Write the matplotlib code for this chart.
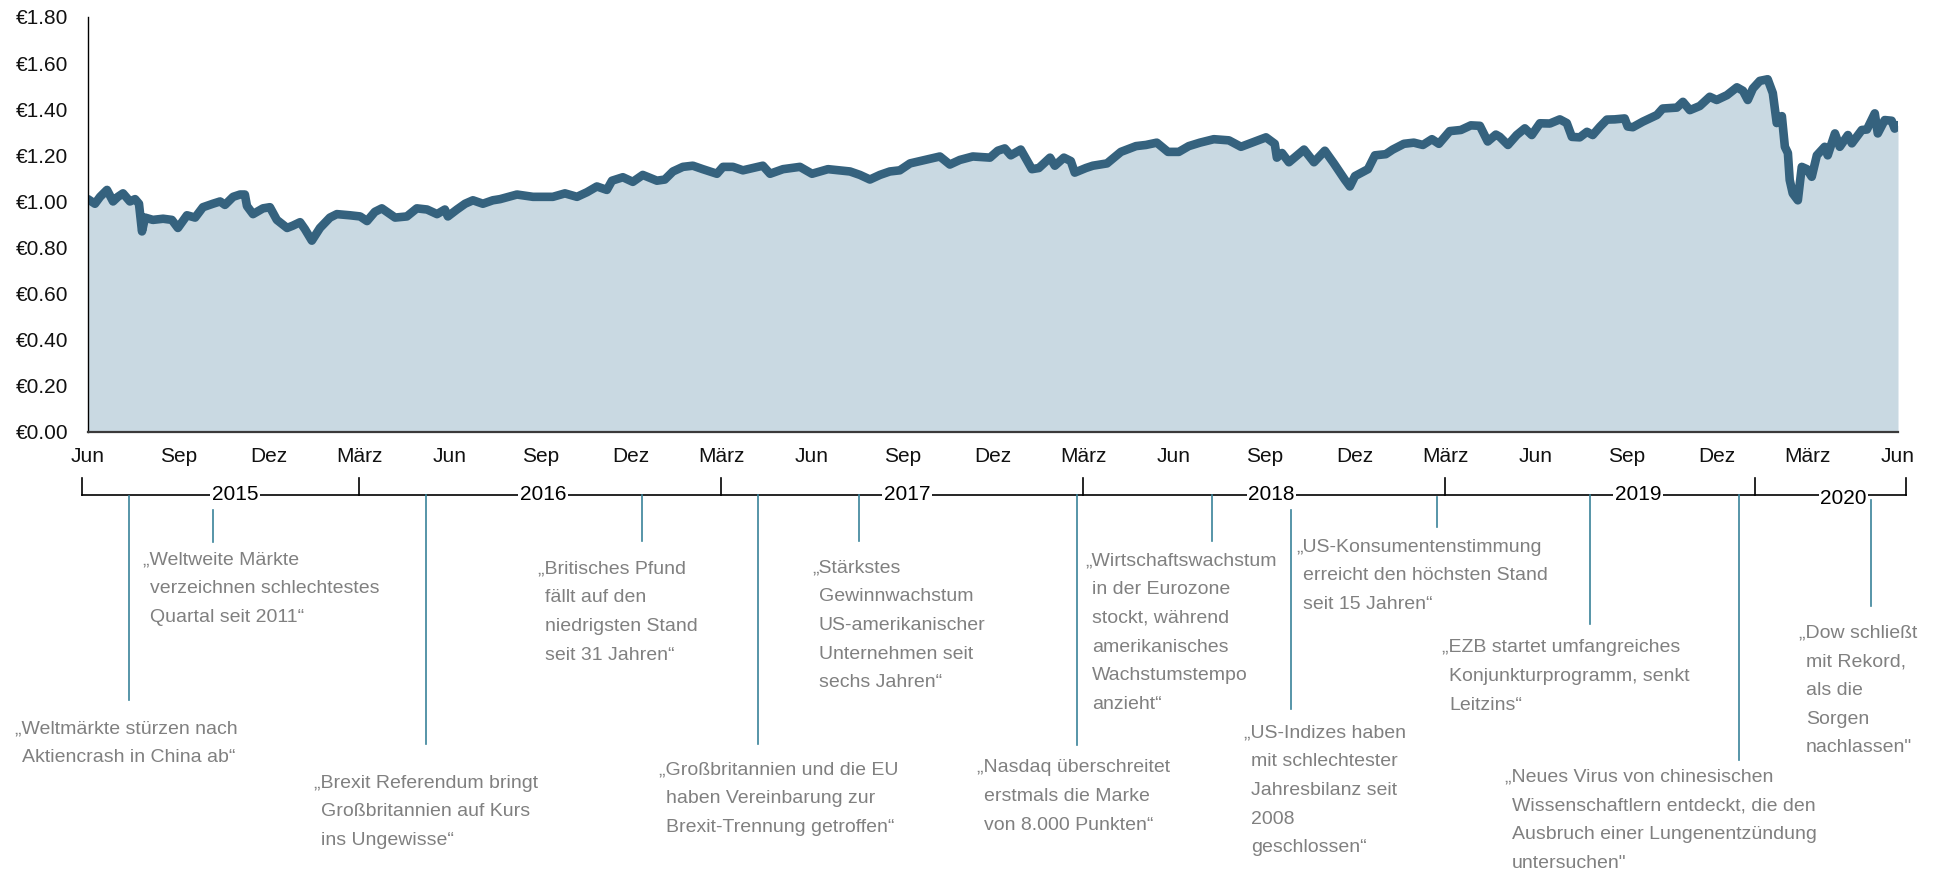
import matplotlib
matplotlib.use('Agg')
import matplotlib.pyplot as plt
import matplotlib.transforms as mtransforms

plt.rcParams['font.family'] = ['Liberation Sans', 'DejaVu Sans']

# Wertentwicklung: Monate seit Juni 2015 und Wert in Euro
months = [0.00, 0.23, 0.40, 0.63, 0.83, 0.99, 1.16, 1.39, 1.56, 1.69, 1.79, 1.89, 2.15, 2.49, 2.78,
          2.98, 3.28, 3.55, 3.81, 4.14, 4.38, 4.54, 4.81, 5.04, 5.20, 5.27, 5.47, 5.80, 6.03, 6.26,
          6.60, 6.79, 7.03, 7.19, 7.42, 7.69, 8.02, 8.25, 8.68, 9.02, 9.25, 9.51, 9.74, 10.18, 10.57,
          10.90, 11.24, 11.57, 11.83, 11.93, 12.23, 12.50, 12.76, 13.09, 13.42, 13.66, 14.22, 14.75,
          15.41, 15.81, 16.21, 16.54, 16.87, 17.20, 17.37, 17.73, 18.06, 18.39, 18.86, 19.12, 19.39,
          19.72, 20.05, 20.38, 20.85, 21.05, 21.38, 21.71, 22.37, 22.61, 23.04, 23.60, 24.00, 24.53,
          25.26, 25.59, 25.92, 26.25, 26.58, 26.91, 27.25, 27.91, 28.24, 28.57, 28.90, 29.33, 29.90,
          30.16, 30.39, 30.59, 30.92, 31.29, 31.52, 31.89, 32.05, 32.35, 32.58, 32.71, 33.08, 33.31,
          33.78, 34.24, 34.74, 35.07, 35.43, 35.80, 36.16, 36.49, 36.86, 37.32, 37.82, 38.22, 38.65,
          39.05, 39.34, 39.41, 39.58, 39.81, 40.31, 40.64, 41.00, 41.30, 41.66, 41.83, 42.00, 42.43,
          42.66, 43.02, 43.25, 43.62, 43.95, 44.25, 44.55, 44.78, 45.14, 45.51, 45.84, 46.14, 46.40,
          46.67, 46.80, 47.07, 47.36, 47.63, 47.86, 48.13, 48.46, 48.79, 49.02, 49.19, 49.45, 49.69,
          49.88, 50.12, 50.35, 50.61, 50.94, 51.04, 51.21, 51.54, 52.01, 52.20, 52.67, 52.87, 53.10,
          53.43, 53.76, 53.99, 54.33, 54.66, 54.86, 55.02, 55.19, 55.42, 55.68, 55.85, 55.98, 56.15,
          56.25, 56.35, 56.41, 56.51, 56.68, 56.81, 56.98, 57.14, 57.31, 57.57, 57.67, 57.91, 58.07,
          58.34, 58.47, 58.80, 58.97, 59.23, 59.33, 59.56, 59.79, 59.89, 60.00]
values = [1.01, 0.99, 1.02, 1.05, 1.00, 1.02, 1.035, 1.00, 1.01, 0.99, 0.87, 0.93, 0.92, 0.925, 0.92,
          0.885, 0.94, 0.93, 0.975, 0.99, 1.00, 0.985, 1.02, 1.03, 1.03, 0.98, 0.945, 0.97, 0.975, 0.92,
          0.885, 0.895, 0.91, 0.88, 0.83, 0.885, 0.93, 0.945, 0.94, 0.935, 0.915, 0.955, 0.97, 0.93, 0.935,
          0.97, 0.965, 0.945, 0.965, 0.935, 0.965, 0.99, 1.005, 0.99, 1.005, 1.01, 1.03, 1.02,
          1.02, 1.035, 1.02, 1.04, 1.065, 1.05, 1.09, 1.105, 1.085, 1.115, 1.09, 1.095, 1.13,
          1.15, 1.155, 1.14, 1.12, 1.15, 1.15, 1.135, 1.155, 1.12, 1.14, 1.15, 1.12, 1.14,
          1.13, 1.115, 1.095, 1.115, 1.13, 1.135, 1.165, 1.185, 1.195, 1.16, 1.18, 1.195, 1.19,
          1.22, 1.23, 1.20, 1.225, 1.14, 1.145, 1.19, 1.155, 1.19, 1.175, 1.125, 1.145, 1.155,
          1.165, 1.215, 1.24, 1.245, 1.255, 1.215, 1.215, 1.24, 1.255, 1.27, 1.265, 1.237, 1.258,
          1.278, 1.25, 1.19, 1.21, 1.17, 1.225, 1.17, 1.22, 1.165, 1.095, 1.065, 1.11, 1.14,
          1.20, 1.205, 1.225, 1.25, 1.255, 1.245, 1.27, 1.25, 1.305, 1.31, 1.33, 1.328, 1.26,
          1.29, 1.28, 1.245, 1.288, 1.317, 1.288, 1.339, 1.338, 1.356, 1.34, 1.28, 1.278, 1.302,
          1.288, 1.324, 1.355, 1.356, 1.36, 1.325, 1.322, 1.346, 1.375, 1.403, 1.407, 1.432, 1.396,
          1.414, 1.454, 1.44, 1.461, 1.495, 1.48, 1.44, 1.49, 1.523, 1.53, 1.47, 1.34, 1.37,
          1.237, 1.21, 1.093, 1.035, 1.005, 1.15, 1.14, 1.107, 1.20, 1.237, 1.20, 1.295, 1.237,
          1.288, 1.252, 1.31, 1.312, 1.382, 1.295, 1.353, 1.35, 1.316, 1.331]

month_names = ['Jun', 'Sep', 'Dez', 'März']
year_labels = ['2015', '2016', '2017', '2018', '2019', '2020']
period_marks = [-0.2, 9, 21, 33, 45, 55.25, 60.26]

event_months = [1.35, 4.14, 11.2, 18.36, 22.2, 25.56, 32.78, 37.26, 39.87, 44.71, 49.78, 54.72, 59.1]
event_texts = [
    ['„Weltmärkte stürzen nach', 'Aktiencrash in China ab“'],
    ['„Weltweite Märkte', 'verzeichnen schlechtestes', 'Quartal seit 2011“'],
    ['„Brexit Referendum bringt', 'Großbritannien auf Kurs', 'ins Ungewisse“'],
    ['„Britisches Pfund', 'fällt auf den', 'niedrigsten Stand', 'seit 31 Jahren“'],
    ['„Großbritannien und die EU', 'haben Vereinbarung zur', 'Brexit-Trennung getroffen“'],
    ['„Stärkstes', 'Gewinnwachstum', 'US-amerikanischer', 'Unternehmen seit', 'sechs Jahren“'],
    ['„Nasdaq überschreitet', 'erstmals die Marke', 'von 8.000 Punkten“'],
    ['„Wirtschaftswachstum', 'in der Eurozone', 'stockt, während', 'amerikanisches',
     'Wachstumstempo', 'anzieht“'],
    ['„US-Indizes haben', 'mit schlechtester', 'Jahresbilanz seit', '2008', 'geschlossen“'],
    ['„US-Konsumentenstimmung', 'erreicht den höchsten Stand', 'seit 15 Jahren“'],
    ['„EZB startet umfangreiches', 'Konjunkturprogramm, senkt', 'Leitzins“'],
    ['„Neues Virus von chinesischen', 'Wissenschaftlern entdeckt, die den',
     'Ausbruch einer Lungenentzündung', 'untersuchen"'],
    ['„Dow schließt', 'mit Rekord,', 'als die', 'Sorgen', 'nachlassen"'],
]

# Layout (Pixel): Linie oben/unten, Text x / y der ersten Zeile
event_layout = [
    (496, 700, 15, 729), (510, 542, 143, 560), (495, 744, 314, 783), (495, 541, 538, 569),
    (495, 744, 659, 770), (495, 541, 812, 568), (495, 745, 977, 768), (495, 541, 1085, 561),
    (510, 709, 1244, 733), (497, 527, 1296, 547), (495, 624, 1442, 648), (495, 760, 1505, 777),
    (500, 606, 1799, 633),
]
year_pos = [4.87, 15.08, 27.15, 39.24, 51.38, 58.2]

W, H = 1936, 874
LINE_COL = '#35627e'
FILL_COL = '#c9d9e2'
EVENT_COL = '#3a8399'
TEXT_COL = '#808080'

fig = plt.figure(figsize=(W / 100, H / 100), dpi=100)
ax = fig.add_axes([88 / W, 1 - 432 / H, (1898 - 88) / W, (432 - 17) / H])

ax.fill_between(months, values, 0, color=FILL_COL, linewidth=0)
ax.plot(months, values, color=LINE_COL, linewidth=6.2, solid_joinstyle='round', solid_capstyle='round')

ax.set_xlim(0, 60)
ax.set_ylim(0, 1.8)
ax.set_yticks([i * 0.2 for i in range(10)])
ax.set_yticklabels(['€%.2f' % (i * 0.2) for i in range(10)])
ax.set_xticks(list(range(0, 61, 3)))
ax.set_xticklabels([month_names[i % 4] for i in range(21)])
ax.tick_params(axis='y', length=0, pad=14, labelsize=15, labelcolor='#111111')
ax.tick_params(axis='x', length=0, pad=11, labelsize=15, labelcolor='#111111')
for s in ['top', 'right']:
    ax.spines[s].set_visible(False)
ax.spines['left'].set_color('black')
ax.spines['left'].set_linewidth(1.0)
ax.spines['bottom'].set_color('#3a3a3a')
ax.spines['bottom'].set_linewidth(1.6)

# Pixel-Transformation (oben links = 0,0)
px = mtransforms.Affine2D().scale(1 / W, -1 / H).translate(0, 1) + fig.transFigure
tl = mtransforms.blended_transform_factory(ax.transData, px)

# Zeitleiste
ax.plot([period_marks[0], period_marks[-1]], [495, 495], color='black', lw=1.2,
        transform=tl, clip_on=False)
for m in period_marks:
    ax.plot([m, m], [478, 495], color='black', lw=1.2, transform=tl, clip_on=False)
for lab, m in zip(year_labels, year_pos):
    y = 499 if lab == '2020' else 495
    ax.text(m, y, lab, transform=tl, ha='center', va='center', fontsize=15, color='black',
            bbox=dict(facecolor='white', edgecolor='none', pad=1.0), clip_on=False)

for m, lines, (y0, y1, tx, ty) in zip(event_months, event_texts, event_layout):
    ax.plot([m, m], [y0, y1], color=EVENT_COL, lw=1.2, transform=tl, clip_on=False)
    for i, line in enumerate(lines):
        fig.text(tx + (0 if i == 0 else 7), ty + i * 28.7, line, transform=px,
                 ha='left', va='center', fontsize=14, color=TEXT_COL)

fig.savefig('out.png', dpi=100, facecolor='white')
